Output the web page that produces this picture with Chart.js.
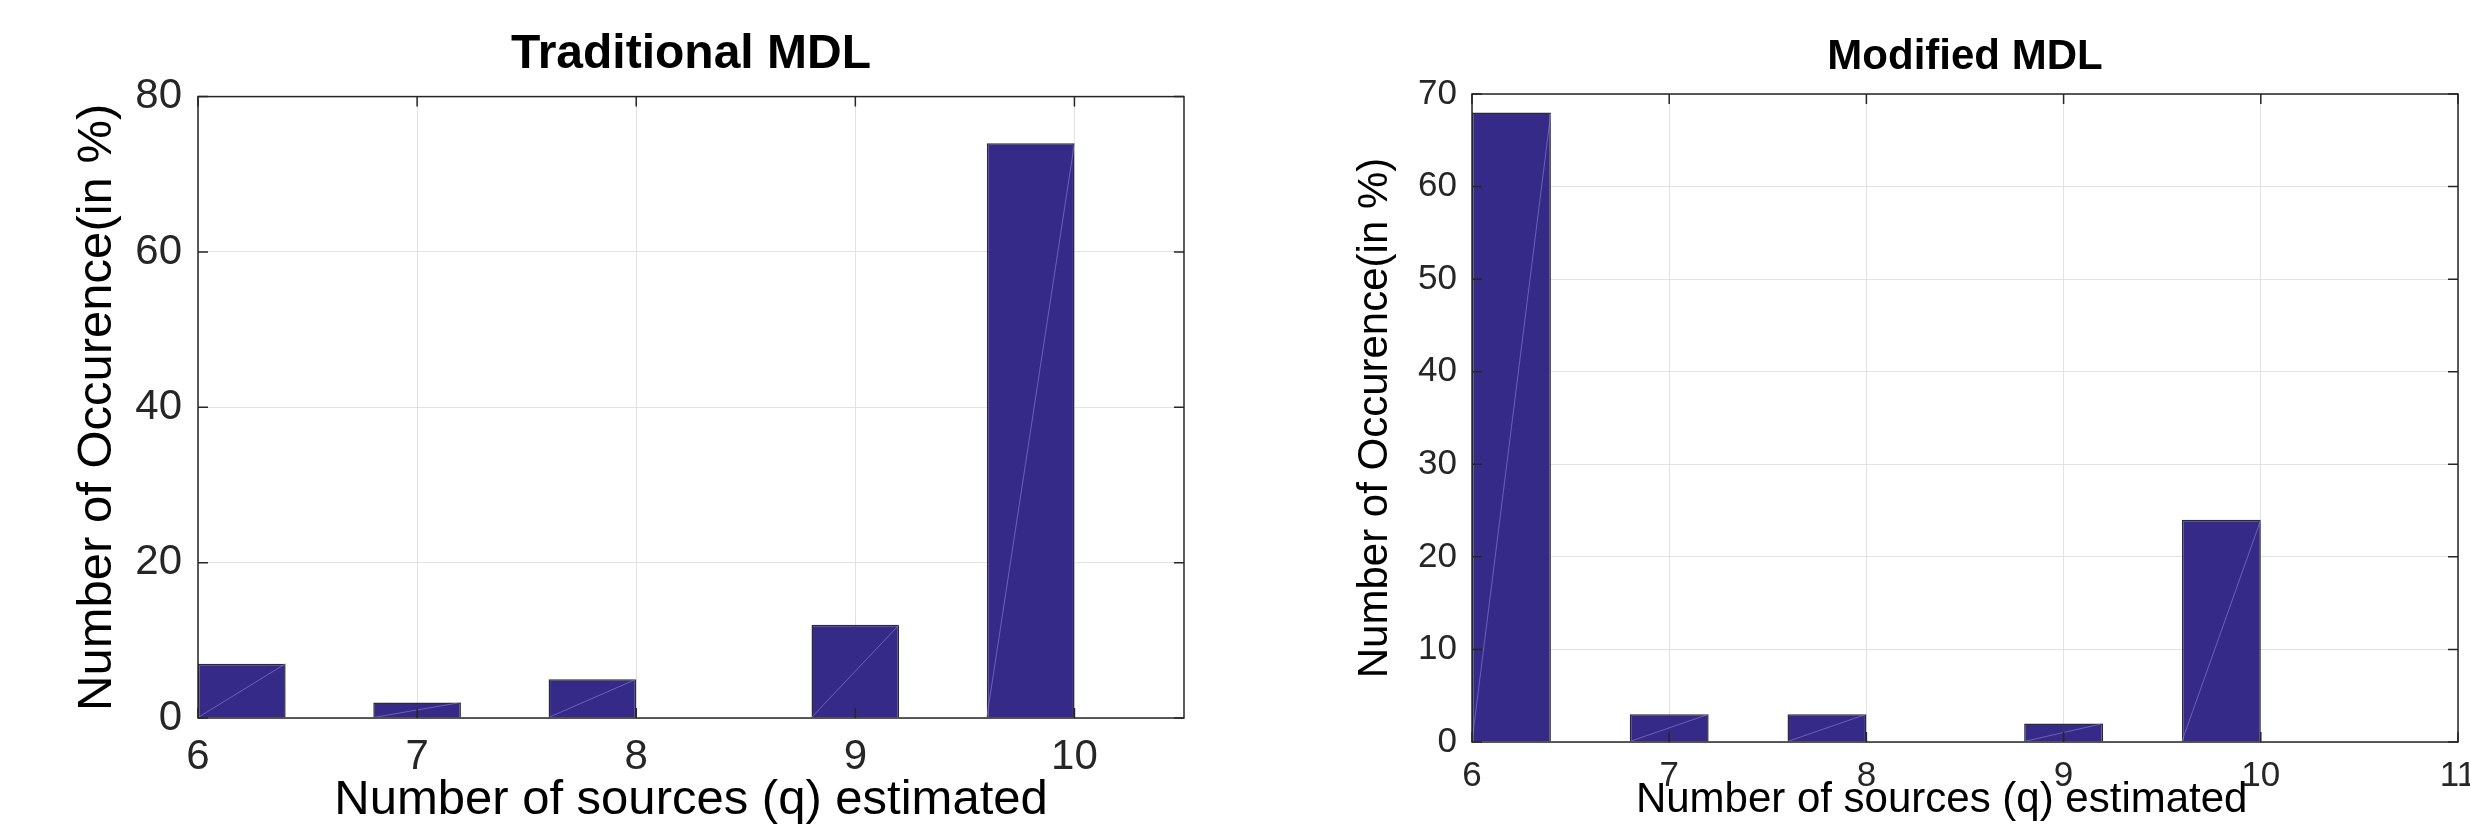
<!DOCTYPE html>
<html>
<head>
<meta charset="utf-8">
<script src="https://cdn.jsdelivr.net/npm/chart.js@4.4.1/dist/chart.umd.min.js"></script>
<style>
  body { margin: 0; background: #fff; overflow: hidden; width: 2470px; height: 826px; position: relative; }
  .wrap { position: absolute; top: 0; height: 826px; }
</style>
</head>
<body>
<div class="wrap" style="left:0;width:1235px"><canvas id="trad" width="1235" height="826"></canvas></div>
<div class="wrap" style="left:1235px;width:1260px"><canvas id="mod" width="1260" height="826"></canvas></div>
<script>
// histogram bins (centre of each 0.4 wide bin that has counts)
const binCenters = [6.2, 7.0, 7.8, 9.0, 9.8];
const traditionalPct = [7, 2, 5, 12, 74];
const modifiedPct = [68, 3, 3, 2, 24];

const xRangeTrad = [6, 10.5];
const xRangeMod = [6, 11];
const yMaxTrad = 80;
const yMaxMod = 70;

const xLabel = "Number of sources (q) estimated";
const yLabel = "Number of Occurence(in %)";

const FONT = "'Liberation Sans', Arial, Helvetica, sans-serif";
const barColor = "#352a87";
const axisColor = "#262626";

// box around the axes, inward tick marks and the patch seam matlab leaves in each bar
const matlabLook = {
  id: "matlabLook",
  afterDatasetsDraw(chart) {
    const { ctx, chartArea: a, scales: { x, y } } = chart;
    ctx.save();
    ctx.strokeStyle = "rgba(150,140,225,0.55)";
    ctx.lineWidth = 1;
    chart.getDatasetMeta(0).data.forEach((bar) => {
      const p = bar.getProps(["x", "y", "base", "width"], true);
      ctx.beginPath();
      ctx.moveTo(p.x - p.width / 2, p.base);
      ctx.lineTo(p.x + p.width / 2, p.y);
      ctx.stroke();
    });
    ctx.strokeStyle = axisColor;
    ctx.lineWidth = 1.5;
    ctx.strokeRect(a.left, a.top, a.width, a.height);
    const tl = 10;
    ctx.beginPath();
    x.ticks.forEach((t) => {
      const px = x.getPixelForValue(t.value);
      ctx.moveTo(px, a.bottom); ctx.lineTo(px, a.bottom - tl);
      ctx.moveTo(px, a.top); ctx.lineTo(px, a.top + tl);
    });
    y.ticks.forEach((t) => {
      const py = y.getPixelForValue(t.value);
      ctx.moveTo(a.left, py); ctx.lineTo(a.left + tl, py);
      ctx.moveTo(a.right, py); ctx.lineTo(a.right - tl, py);
    });
    ctx.stroke();
    ctx.restore();
  },
};

function makeChart(id, title, values, xRange, yMax, yStep, s) {
  return new Chart(document.getElementById(id), {
    type: "bar",
    data: {
      datasets: [
        {
          data: binCenters.map((c, i) => ({ x: c, y: values[i] })),
          backgroundColor: barColor,
          borderColor: "#2a2a3a",
          borderWidth: 1.5,
          categoryPercentage: 1,
          barPercentage: 0.5,
        },
      ],
    },
    options: {
      responsive: false,
      animation: false,
      layout: { padding: { left: 0, right: s.padRight, top: 0, bottom: 0 } },
      plugins: {
        legend: { display: false },
        tooltip: { enabled: false },
        title: {
          display: true,
          text: title,
          fullSize: false,
          color: "#000",
          font: { family: FONT, size: s.titleSize, weight: "bold", lineHeight: 1.2 },
          padding: { top: s.titleTop, bottom: s.titleBottom },
        },
      },
      scales: {
        x: {
          type: "linear",
          min: xRange[0],
          max: xRange[1],
          offset: false,
          afterFit: (sc) => { sc.height = s.xAxisHeight; },
          grid: { color: "#e2e2e2", drawTicks: false, offset: false },
          border: { display: false },
          ticks: {
            stepSize: 1,
            includeBounds: false,
            color: axisColor,
            padding: s.xTickPad,
            maxRotation: 0,
            font: { family: FONT, size: s.tickSize },
          },
          title: {
            display: true,
            // trailing spaces nudge the centred label left like the original
            text: xLabel + s.xTitleTail,
            color: "#000",
            font: { family: FONT, size: s.labelSize, lineHeight: 1 },
            padding: { top: 0, bottom: s.xTitleBottom },
          },
        },
        y: {
          min: 0,
          max: yMax,
          afterFit: (sc) => { sc.width = s.yAxisWidth; },
          grid: { color: "#e2e2e2", drawTicks: false },
          border: { display: false },
          ticks: {
            stepSize: yStep,
            color: axisColor,
            padding: s.yTickPad,
            font: { family: FONT, size: s.tickSize },
          },
          title: {
            display: true,
            text: yLabel,
            color: "#000",
            font: { family: FONT, size: s.labelSize, lineHeight: 1 },
            padding: { top: s.yTitleTop, bottom: 0 },
          },
        },
      },
    },
    plugins: [matlabLook],
  });
}

makeChart("trad", "Traditional MDL", traditionalPct, xRangeTrad, yMaxTrad, 20, {
  padRight: 51, titleSize: 48, titleTop: 26, titleBottom: 13,
  xAxisHeight: 108, yAxisWidth: 198, tickSize: 42, labelSize: 49,
  xTickPad: 14, yTickPad: 16, xTitleBottom: 1, yTitleTop: 73, xTitleTail: "",
});

makeChart("mod", "Modified MDL", modifiedPct, xRangeMod, yMaxMod, 10, {
  padRight: 37, titleSize: 42, titleTop: 32, titleBottom: 11.6,
  xAxisHeight: 84, yAxisWidth: 237, tickSize: 35, labelSize: 42,
  xTickPad: 13, yTickPad: 15, xTitleBottom: 5, yTitleTop: 119, xTitleTail: "    ",
});
</script>
</body>
</html>
